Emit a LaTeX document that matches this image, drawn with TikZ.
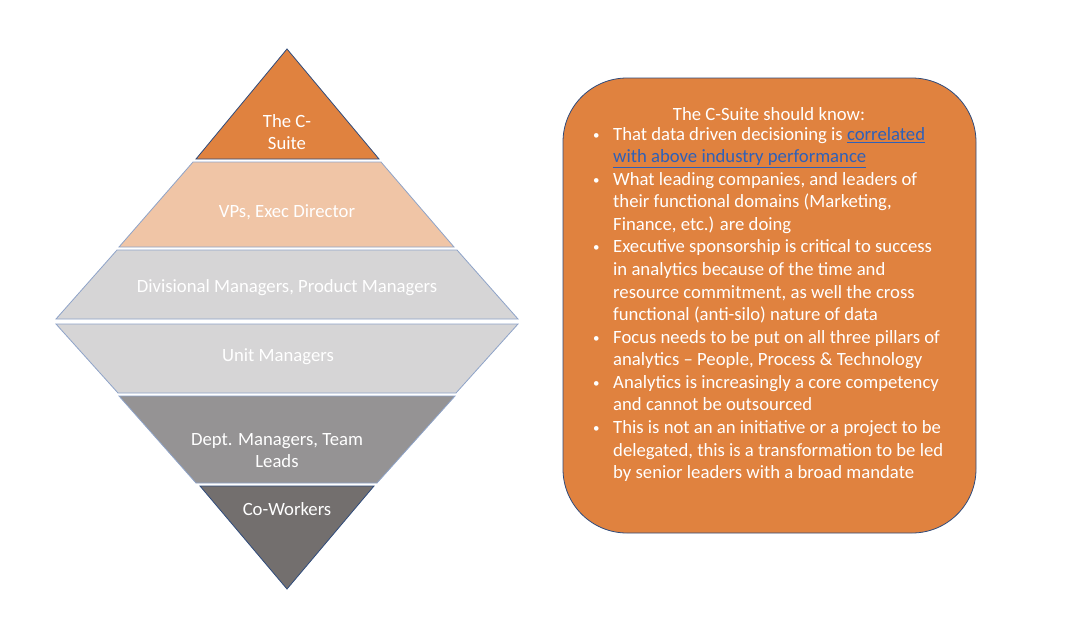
\documentclass[tikz,border=0pt]{standalone}
\usepackage{fontspec}
\setmainfont{Carlito}
\definecolor{corange}{HTML}{E0823F}
\definecolor{cpeach}{HTML}{F0C5A6}
\definecolor{clgray}{HTML}{D6D5D6}
\definecolor{cmgray}{HTML}{959394}
\definecolor{cdgray}{HTML}{736F6E}
\definecolor{cnavy}{HTML}{2F4B7C}
\definecolor{cedge}{HTML}{8EA3C8}
\definecolor{clink}{HTML}{2E60B8}
\begin{document}
\begin{tikzpicture}[x=1pt,y=-1pt,
  layer/.style={line width=0.8pt, line join=miter},
  lbl/.style={text=white, font=\fontsize{18.7}{22}\selectfont, align=center, inner sep=0pt},
  boxtext/.style={text=white, font=\fontsize{18.7}{22.56}\selectfont, inner sep=0pt}]
\useasboundingbox (0,0) rectangle (1082,630);
\fill[white] (0,0) rectangle (1082,630);
% top pyramid
\draw[layer, fill=corange, draw=cnavy] (287,49) -- (379,159) -- (196,159) -- cycle;
\draw[layer, fill=cpeach, draw=cedge] (193,162) -- (381,162) -- (454,247) -- (119,247) -- cycle;
\draw[layer, fill=clgray, draw=cedge] (117,250) -- (457,250) -- (518,319) -- (56,319) -- cycle;
% inverted pyramid
\draw[layer, fill=clgray, draw=cedge] (56,324) -- (518,324) -- (456,393) -- (118,393) -- cycle;
\draw[layer, fill=cmgray, draw=cedge] (119,396) -- (455,396) -- (377,483) -- (196,483) -- cycle;
\draw[layer, fill=cdgray, draw=cnavy] (200,486) -- (374,486) -- (287,589) -- cycle;
% labels
\node[lbl] (csuite) at (287,132) {The C-\\Suite};
\node[lbl] (vps) at (287,212) {VPs, Exec Director};
\node[lbl] (div) at (287,288) {Divisional Managers, Product Managers};
\node[lbl] (unit) at (278,357) {Unit Managers};
\node[lbl] (dept) at (277,451) {Dept. Managers, Team\\Leads};
\node[lbl] (cow) at (287,509) {Co-Workers};
% right box
\draw[fill=corange, draw=cnavy, line width=0.8pt, rounded corners=64pt] (563,78) rectangle (976,533);
\node[boxtext, anchor=base] (title) at (769,120) {The C-Suite should know:};
\newcommand{\bl}{\makebox[20pt][l]{\raisebox{1pt}{\fontsize{13}{13}\selectfont •}}}
\newcommand{\cl}{\hspace*{20pt}}
\node[boxtext, anchor=north west, align=left] (list) at (593,127) {%
\bl That data driven decisioning is \textcolor{clink}{\underline{correlated}}\\
\cl\textcolor{clink}{\underline{with above industry performance}}\\
\bl What leading companies, and leaders of\\
\cl their functional domains (Marketing,\\
\cl Finance, etc.) are doing\\
\bl Executive sponsorship is critical to success\\
\cl in analytics because of the time and\\
\cl resource commitment, as well the cross\\
\cl functional (anti-silo) nature of data\\
\bl Focus needs to be put on all three pillars of\\
\cl analytics – People, Process \& Technology\\
\bl Analytics is increasingly a core competency\\
\cl and cannot be outsourced\\
\bl This is not an an initiative or a project to be\\
\cl delegated, this is a transformation to be led\\
\cl by senior leaders with a broad mandate};
\end{tikzpicture}
\end{document}
